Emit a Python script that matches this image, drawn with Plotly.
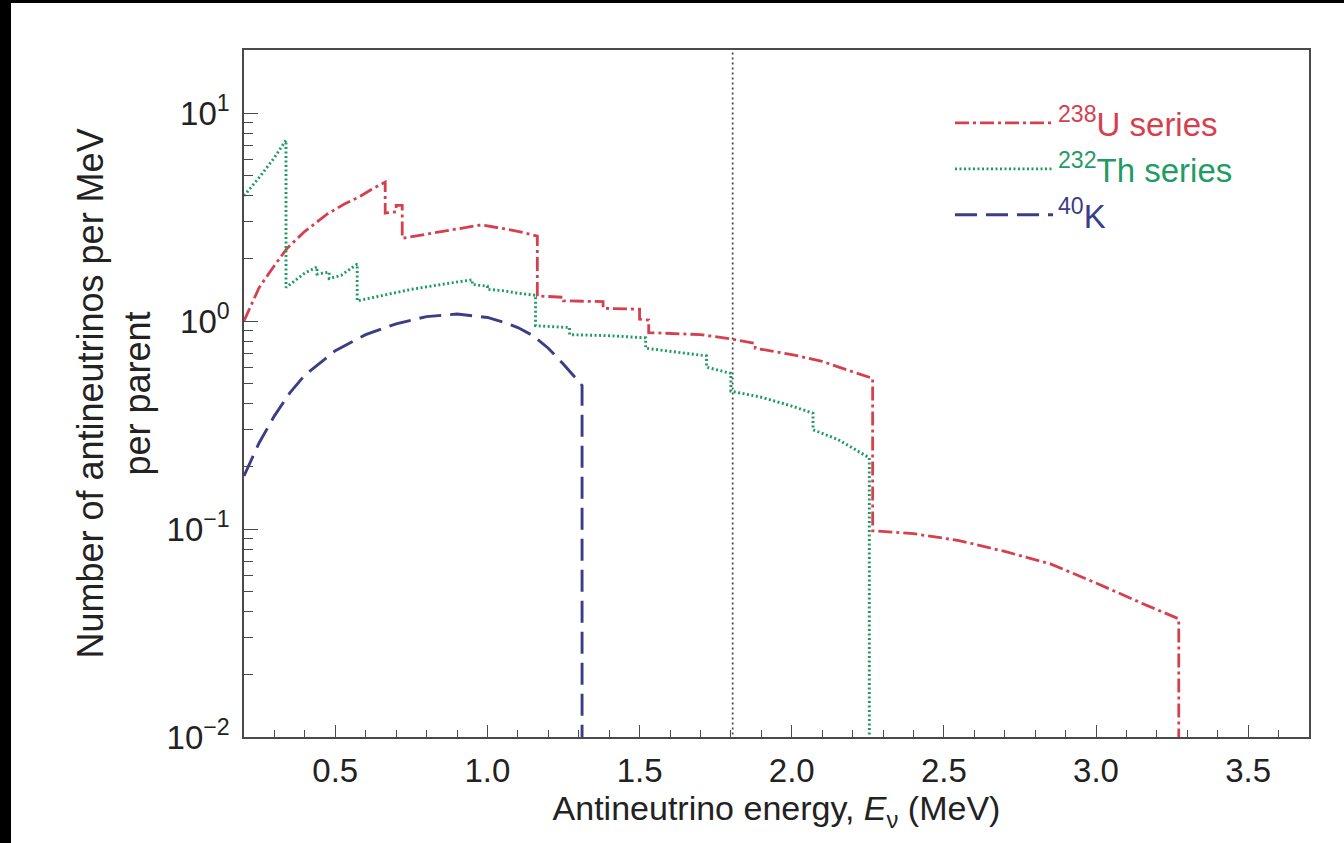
import plotly.graph_objects as go

# ---------------- data ----------------
u_energy = [0.20, 0.25, 0.30, 0.342, 0.40, 0.474, 0.53, 0.582, 0.62, 0.664, 0.664, 0.70, 0.70, 0.72, 0.72,
            0.80, 0.88, 0.98, 1.04, 1.10, 1.164, 1.164, 1.25, 1.25, 1.38, 1.38, 1.50, 1.50, 1.53, 1.53,
            1.70, 1.80, 1.88, 1.88, 2.00, 2.10, 2.20, 2.266, 2.266, 2.40, 2.55, 2.70, 2.85, 3.00, 3.15,
            3.272, 3.272]
u_value = [1.00, 1.45, 1.85, 2.24, 2.70, 3.27, 3.65, 3.98, 4.30, 4.66, 3.30, 3.35, 3.60, 3.60, 2.50,
           2.62, 2.75, 2.90, 2.80, 2.70, 2.56, 1.32, 1.30, 1.25, 1.24, 1.15, 1.14, 1.02, 1.01, 0.88,
           0.86, 0.82, 0.78, 0.74, 0.69, 0.64, 0.57, 0.53, 0.098, 0.095, 0.088, 0.078, 0.068, 0.055, 0.044,
           0.037, 0.005]

th_energy = [0.20, 0.25, 0.30, 0.338, 0.338, 0.40, 0.44, 0.44, 0.48, 0.48, 0.52, 0.572, 0.572, 0.65, 0.75,
             0.85, 0.95, 0.95, 1.00, 1.00, 1.05, 1.10, 1.158, 1.158, 1.27, 1.27, 1.40, 1.52, 1.52, 1.65,
             1.72, 1.72, 1.80, 1.80, 1.90, 2.00, 2.07, 2.07, 2.15, 2.255, 2.255]
th_value = [4.0, 4.9, 6.1, 7.4, 1.45, 1.70, 1.82, 1.68, 1.72, 1.60, 1.66, 1.88, 1.25, 1.32, 1.42,
            1.50, 1.58, 1.50, 1.47, 1.42, 1.40, 1.36, 1.33, 0.95, 0.93, 0.86, 0.85, 0.83, 0.74, 0.70,
            0.68, 0.60, 0.56, 0.46, 0.43, 0.39, 0.36, 0.30, 0.27, 0.22, 0.005]

k_energy = [0.20, 0.25, 0.30, 0.35, 0.40, 0.50, 0.60, 0.70, 0.80, 0.90, 1.00, 1.05, 1.10, 1.15, 1.20,
            1.25, 1.311, 1.311]
k_value = [0.18, 0.26, 0.35, 0.45, 0.55, 0.72, 0.86, 0.97, 1.05, 1.08, 1.04, 0.99, 0.93, 0.85, 0.74,
           0.62, 0.49, 0.005]

threshold_energy = [1.806, 1.806]
threshold_value = [0.005, 40]

series_names = ["<span style='color:#d5404f'><sup>238</sup>U series</span>",
                "<span style='color:#1f9c64'><sup>232</sup>Th series</span>",
                "<span style='color:#3b3d86'><sup>40</sup>K</span>"]

x_tickvals = [0.5, 1.0, 1.5, 2.0, 2.5, 3.0, 3.5]
x_ticktext = ["0.5", "1.0", "1.5", "2.0", "2.5", "3.0", "3.5"]
y_tickvals = [0.01, 0.1, 1, 10]
y_ticktext = ["10<sup>\u22122</sup>", "10<sup>\u22121</sup>", "10<sup>0</sup>", "10<sup>1</sup>"]
y_minor = [m * d for d in (0.01, 0.1, 1, 10) for m in range(2, 10) if m * d < 19]

# ---------------- figure ----------------
FONT = "Liberation Sans, Arial, Helvetica, sans-serif"
W, H = 1344, 843
ML, MR, MT, MB = 244, 35, 50, 106
PW, PH = W - ML - MR, H - MT - MB

fig = go.Figure()
fig.add_trace(go.Scatter(x=threshold_energy, y=threshold_value, mode="lines", showlegend=False,
                         line=dict(color="#444444", width=1.7, dash="2px,3px"), hoverinfo="skip"))
fig.add_trace(go.Scatter(x=u_energy, y=u_value, mode="lines", name=series_names[0],
                         line=dict(color="#d5404f", width=2.8, dash="14px,4px,3px,4px")))
fig.add_trace(go.Scatter(x=th_energy, y=th_value, mode="lines", name=series_names[1],
                         line=dict(color="#1f9c64", width=2.9, dash="2px,2.5px")))
fig.add_trace(go.Scatter(x=k_energy, y=k_value, mode="lines", name=series_names[2],
                         line=dict(color="#3b3d86", width=2.9, dash="22px,9px")))

axis_common = dict(showline=True, linecolor="#4a4a4a", linewidth=1.6, mirror=True,
                   showgrid=False, zeroline=False, ticks="inside", tickcolor="#4a4a4a",
                   tickwidth=1.4, tickfont=dict(family=FONT, size=33, color="#222222"))

fig.update_layout(
    width=W, height=H,
    margin=dict(l=ML, r=MR, t=MT, b=MB),
    paper_bgcolor="white", plot_bgcolor="white",
    font=dict(family=FONT, color="#222222"),
    xaxis=dict(range=[0.2, 3.7], tickvals=x_tickvals, ticktext=x_ticktext, ticklen=12,
               ticklabelstandoff=4,
               minor=dict(dtick=0.1, tick0=0.0, ticks="inside", ticklen=7, tickcolor="#4a4a4a", tickwidth=1.2),
               title=dict(text="Antineutrino energy, <i>E</i><sub>\u03bd</sub> (MeV)",
                          font=dict(family=FONT, size=34, color="#222222"), standoff=6),
               **axis_common),
    yaxis=dict(type="log", range=[-2, 1.303], tickvals=y_tickvals, ticktext=y_ticktext, ticklen=14,
               ticklabelstandoff=6,
               minor=dict(tickvals=y_minor, ticks="inside", ticklen=9, tickcolor="#4a4a4a", tickwidth=1.2),
               title=dict(text="Number of antineutrinos per MeV<br>per parent",
                          font=dict(family=FONT, size=36, color="#222222"), standoff=5),
               **axis_common),
    legend=dict(x=(950 - ML) / PW, y=(MT + PH - 95) / PH, xanchor="left", yanchor="top",
                bgcolor="rgba(0,0,0,0)", font=dict(family=FONT, size=33), itemwidth=98,
                tracegroupgap=0),
    showlegend=True,
)

# black borders of the original picture
fig.add_shape(type="rect", xref="paper", yref="paper", x0=-ML / PW, x1=(11 - ML) / PW,
              y0=-MB / PH - 0.1, y1=(H - MB) / PH + 0.1, fillcolor="black", line_width=0, layer="above")
fig.add_shape(type="rect", xref="paper", yref="paper", x0=-ML / PW - 0.1, x1=1 + MR / PW + 0.1,
              y0=(PH + MT - 3) / PH, y1=(PH + MT) / PH + 0.1, fillcolor="black", line_width=0, layer="above")

fig.write_html("out.html")
